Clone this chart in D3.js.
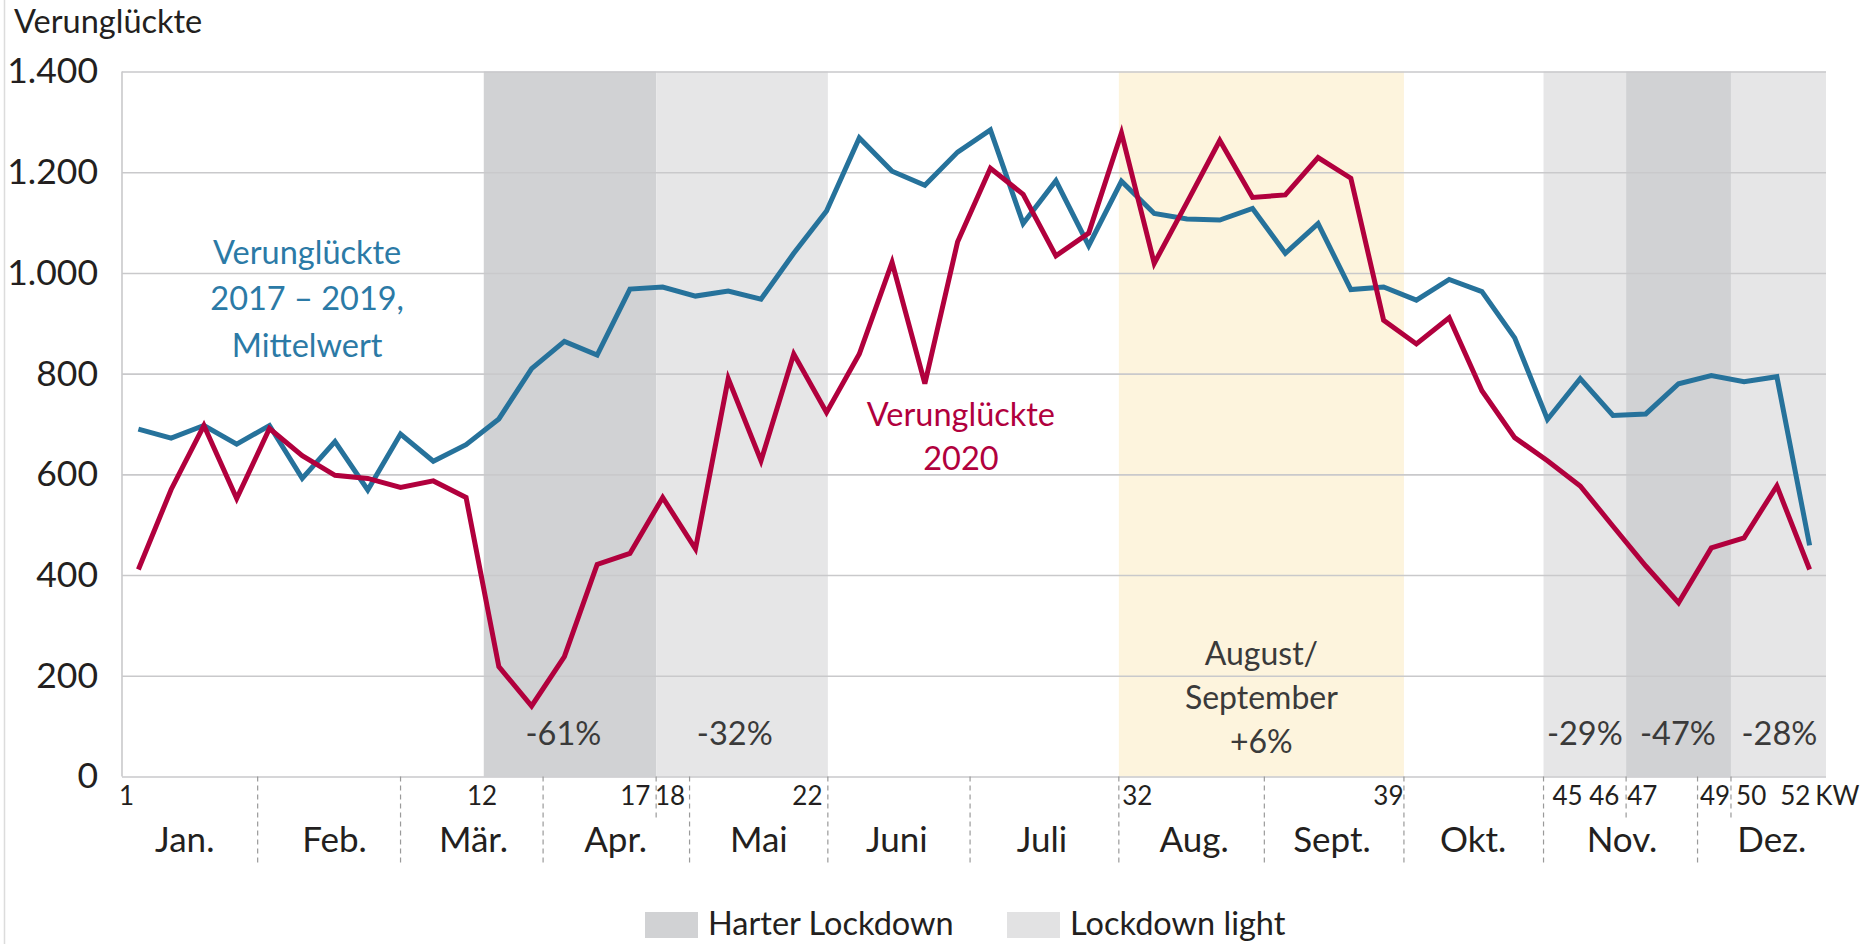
<!DOCTYPE html>
<html lang="de">
<head>
<meta charset="utf-8">
<script src="https://cdn.jsdelivr.net/npm/d3@7"></script>
<style>
  html, body { margin: 0; padding: 0; background: #fff; }
  svg { display: block; font-family: Lato, "Open Sans", sans-serif; }
</style>
</head>
<body>
<div id="chart"></div>
<script>
// Verunglückte je Kalenderwoche: 2020 vs. Mittelwert 2017-2019

var weeks = d3.range(1, 53);
var avg2017_2019 = [690, 672, 697, 660, 697, 592, 665, 569, 680, 626, 659, 710, 810, 864, 837, 968,
  972, 954, 964, 948, 1039, 1123, 1268, 1202, 1174, 1240, 1284, 1098, 1183, 1054, 1182, 1118, 1107,
  1105, 1128, 1039, 1098, 967, 972, 946, 987, 963, 871, 709, 790, 717, 720, 780, 796, 784, 794, 459];
var values2020 = [411, 570, 697, 552, 691, 637, 598, 592, 574, 587, 554, 218, 140, 238, 421, 443,
  554, 452, 790, 627, 839, 723, 839, 1021, 780, 1062, 1208, 1156, 1034, 1079, 1278, 1019, 1140,
  1263, 1150, 1155, 1229, 1188, 906, 859, 911, 766, 673, 627, 577, 497, 418, 345, 454, 474, 577, 411];

var months = ["Jan.", "Feb.", "Mär.", "Apr.", "Mai", "Juni", "Juli", "Aug.", "Sept.", "Okt.", "Nov.", "Dez."];
// Monatsgrenzen und Beschriftungspositionen in Wochen-Einheiten (wie im Original gesetzt)
var monthEdges = [0.5, 4.64, 9.0, 13.35, 17.82, 22.04, 26.38, 30.92, 35.36, 39.62, 43.88, 48.58, 52.5];
var monthLabelAt = [2.4, 6.97, 11.21, 15.55, 19.92, 24.13, 28.56, 33.2, 37.41, 41.72, 46.26, 50.83];

var kwLabels = ["1", "12", "17", "18", "22", "32", "39", "45", "46", "47", "49", "50", "52"];
var kwAt = [0.62, 11.47, 16.15, 17.21, 21.4, 31.47, 39.13, 44.6, 45.72, 46.88, 49.1, 50.2, 51.55];

var yTicks = [0, 200, 400, 600, 800, 1000, 1200, 1400];

// Lockdown-Phasen (Wochen), Veränderung ggü. Mittelwert
var periods = [
  {from: 11.54, to: 16.8, type: "hart", label: "-61%", at: 13.97},
  {from: 16.8, to: 22.04, type: "light", label: "-32%", at: 19.2},
  {from: 30.92, to: 39.62, type: "augsep", label: null},
  {from: 43.88, to: 46.4, type: "light", label: "-29%", at: 45.14},
  {from: 46.4, to: 49.6, type: "hart", label: "-47%", at: 47.98},
  {from: 49.6, to: 52.5, type: "light", label: "-28%", at: 51.08}
];
var augSepText = ["August/", "September", "+6%"];
var innerSplits = [16.8, 46.4, 49.6];

var fill = {hart: "#d1d2d4", light: "#e6e6e7", augsep: "#fdf4dd"};
var blue = "#26729b", red = "#b1003d";

var W = 1864, H = 944;
var margin = {top: 71.5, right: 38, bottom: 167.5, left: 122},
    width = W - margin.left - margin.right,
    height = H - margin.top - margin.bottom;

var x = d3.scaleLinear().domain([0.5, 52.5]).range([0, width]);
var y = d3.scaleLinear().domain([0, 1400]).range([height, 0]);

var de = d3.formatLocale({decimal: ",", thousands: ".", grouping: [3], currency: ["", " €"]});

var root = d3.select("#chart").append("svg")
    .attr("width", W)
    .attr("height", H);

// faint frame line at the left
root.append("line")
    .attr("x1", 4.5).attr("x2", 4.5).attr("y1", 0).attr("y2", H)
    .attr("stroke", "#dcdcdc").attr("stroke-width", 1.5);

root.append("text")
    .attr("x", 14).attr("y", 33)
    .attr("font-size", 32.5).attr("fill", "#231f20")
    .text("Verunglückte");

var svg = root.append("g")
    .attr("transform", "translate(" + margin.left + "," + margin.top + ")");

// shaded periods
svg.selectAll(".period")
    .data(periods)
  .enter().append("rect")
    .attr("class", "period")
    .attr("x", function(d) { return x(d.from); })
    .attr("width", function(d) { return x(d.to) - x(d.from); })
    .attr("y", 0)
    .attr("height", height)
    .attr("fill", function(d) { return fill[d.type]; });

// gridlines
svg.append("g")
    .attr("class", "grid")
    .call(d3.axisLeft(y).tickValues(yTicks).tickSize(-width).tickFormat(""))
    .call(function(g) {
      g.select(".domain").remove();
      g.selectAll("line").attr("stroke", "#c9c9cb").attr("stroke-width", 1.6);
    });

// left border
svg.append("line")
    .attr("x1", 0).attr("x2", 0).attr("y1", 0).attr("y2", height)
    .attr("stroke", "#c9c9cb").attr("stroke-width", 1.6);

// y axis labels
svg.append("g")
    .call(d3.axisLeft(y).tickValues(yTicks).tickSize(0).tickPadding(24).tickFormat(de.format(",d")))
    .call(function(g) {
      g.select(".domain").remove();
      g.selectAll("text").attr("font-size", 35.5).attr("fill", "#231f20")
        .attr("font-family", "Lato, 'Open Sans', sans-serif");
    });

// month separators (dashed) below the axis
svg.selectAll(".msep")
    .data(monthEdges.slice(1, -1))
  .enter().append("line")
    .attr("class", "msep")
    .attr("x1", function(d) { return x(d); })
    .attr("x2", function(d) { return x(d); })
    .attr("y1", height).attr("y2", height + 87)
    .attr("stroke", "#9a9a9a").attr("stroke-width", 1.2).attr("stroke-dasharray", "5,4");

svg.selectAll(".ssep")
    .data(innerSplits)
  .enter().append("line")
    .attr("class", "ssep")
    .attr("x1", function(d) { return x(d); })
    .attr("x2", function(d) { return x(d); })
    .attr("y1", height).attr("y2", height + 42)
    .attr("stroke", "#9a9a9a").attr("stroke-width", 1.2).attr("stroke-dasharray", "5,4");

// KW tick labels
svg.append("g")
    .attr("transform", "translate(0," + height + ")")
    .call(d3.axisBottom(x).tickValues(kwAt).tickSize(0).tickPadding(10)
      .tickFormat(function(d, i) { return kwLabels[i]; }))
    .call(function(g) {
      g.select(".domain").remove();
      g.selectAll("text").attr("font-size", 26).attr("fill", "#231f20")
        .attr("font-family", "Lato, 'Open Sans', sans-serif");
    });

svg.append("text")
    .attr("x", x(52.17)).attr("y", height + 28.5)
    .attr("font-size", 26).attr("fill", "#231f20")
    .text("KW");

// month labels
svg.append("g")
    .attr("transform", "translate(0," + height + ")")
    .call(d3.axisBottom(x).tickValues(monthLabelAt).tickSize(0).tickPadding(51)
      .tickFormat(function(d, i) { return months[i]; }))
    .call(function(g) {
      g.select(".domain").remove();
      g.selectAll("text").attr("font-size", 35).attr("fill", "#231f20")
        .attr("font-family", "Lato, 'Open Sans', sans-serif");
    });

// percentage labels
svg.selectAll(".pct")
    .data(periods.filter(function(d) { return d.label; }))
  .enter().append("text")
    .attr("class", "pct")
    .attr("x", function(d) { return x(d.at); })
    .attr("y", y(85))
    .attr("dy", "0.36em")
    .attr("text-anchor", "middle")
    .attr("font-size", 32.5).attr("fill", "#3a3a3a")
    .text(function(d) { return d.label; });

var augsep = periods.filter(function(d) { return d.type === "augsep"; })[0];
svg.append("text")
    .attr("x", x((augsep.from + augsep.to) / 2))
    .attr("y", y(245))
    .attr("text-anchor", "middle")
    .attr("font-size", 32).attr("fill", "#3a3a3a")
  .selectAll("tspan")
    .data(augSepText)
  .enter().append("tspan")
    .attr("x", x((augsep.from + augsep.to) / 2))
    .attr("dy", function(d, i) { return i === 0 ? "0.36em" : "1.38em"; })
    .text(function(d) { return d; });

// lines
var line = d3.line()
    .x(function(d, i) { return x(weeks[i]); })
    .y(function(d) { return y(d); });

svg.append("path")
    .datum(avg2017_2019)
    .attr("fill", "none")
    .attr("stroke", blue)
    .attr("stroke-width", 5)
    .attr("d", line);

svg.append("path")
    .datum(values2020)
    .attr("fill", "none")
    .attr("stroke", red)
    .attr("stroke-width", 5)
    .attr("d", line);

// series labels
svg.append("text")
    .attr("x", x(6.15)).attr("y", y(1041))
    .attr("text-anchor", "middle")
    .attr("font-size", 32.5).attr("fill", "#2b7aa6")
  .selectAll("tspan")
    .data(["Verunglückte", "2017 – 2019,", "Mittelwert"])
  .enter().append("tspan")
    .attr("x", x(6.15))
    .attr("dy", function(d, i) { return i === 0 ? "0.36em" : "1.43em"; })
    .text(function(d) { return d; });

svg.append("text")
    .attr("x", x(26.1)).attr("y", y(720))
    .attr("text-anchor", "middle")
    .attr("font-size", 32.5).attr("fill", red)
  .selectAll("tspan")
    .data(["Verunglückte", "2020"])
  .enter().append("tspan")
    .attr("x", x(26.1))
    .attr("dy", function(d, i) { return i === 0 ? "0.36em" : "1.38em"; })
    .text(function(d) { return d; });

// legend
var legend = root.append("g").attr("class", "legend");
var legendItems = [
  {label: "Harter Lockdown", type: "hart", x: 645},
  {label: "Lockdown light", type: "light", x: 1007}
];
legend.selectAll("rect")
    .data(legendItems)
  .enter().append("rect")
    .attr("x", function(d) { return d.x; })
    .attr("y", 912)
    .attr("width", 53)
    .attr("height", 26)
    .attr("fill", function(d) { return d.type === "hart" ? fill.hart : "#e2e2e3"; });
legend.selectAll("text")
    .data(legendItems)
  .enter().append("text")
    .attr("x", function(d) { return d.x + 63; })
    .attr("y", 935)
    .attr("font-size", 32.5).attr("fill", "#231f20")
    .text(function(d) { return d.label; });
</script>
</body>
</html>
